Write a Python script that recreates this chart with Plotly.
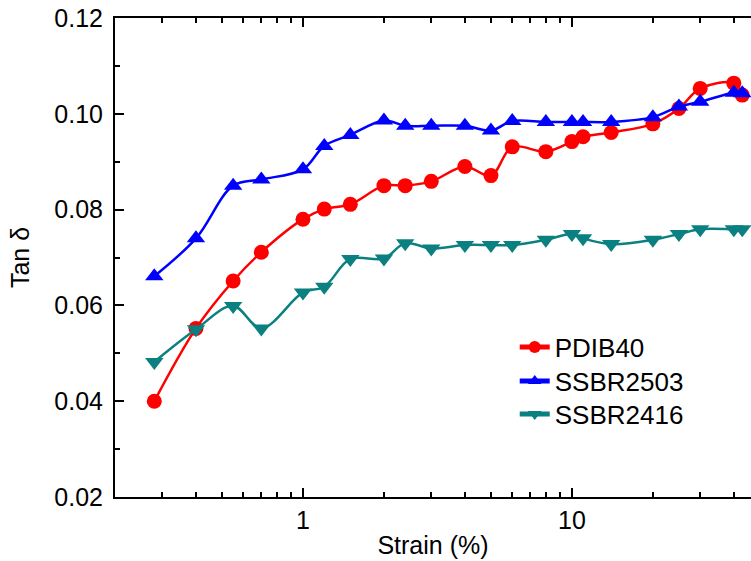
import plotly.graph_objects as go

strain = [0.28, 0.4, 0.55, 0.7, 1.0, 1.2, 1.5, 2.0, 2.4, 3.0, 4.0, 5.0, 6.0, 8.0,
          10.0, 11.0, 14.0, 20.0, 25.0, 30.0, 40.0, 43.0]

pdib40 = [0.0400, 0.0552, 0.0651, 0.0711, 0.0780, 0.0801, 0.0811, 0.0850, 0.0850,
          0.0859, 0.0890, 0.0871, 0.0931, 0.0921, 0.0942, 0.0952, 0.0961, 0.0979,
          0.1011, 0.1053, 0.1064, 0.1039]

ssbr2503 = [0.0661, 0.0740, 0.0850, 0.0863, 0.0884, 0.0933, 0.0956, 0.0986, 0.0975,
            0.0975, 0.0975, 0.0965, 0.0985, 0.0983, 0.0983, 0.0983, 0.0983, 0.0993,
            0.1015, 0.1025, 0.1044, 0.1043]

ssbr2416 = [0.0482, 0.0550, 0.0599, 0.0552, 0.0627, 0.0639, 0.0697, 0.0698, 0.0730,
            0.0719, 0.0726, 0.0726, 0.0726, 0.0737, 0.0749, 0.0740, 0.0728, 0.0737,
            0.0749, 0.0759, 0.0759, 0.0759]

series_names = ["PDIB40", "SSBR2503", "SSBR2416"]
series_values = [pdib40, ssbr2503, ssbr2416]
colors = ["#FF0000", "#0000FF", "#0A8080"]
symbols = ["circle", "triangle-up", "triangle-down"]
sizes = [15, 16, 16]
legend_ids = ["legend", "legend2", "legend3"]
legend_y = [0.362, 0.291, 0.222]

x_major = [1, 10]
x_major_text = ["1", "10"]
x_minor = [0.3, 0.4, 0.5, 0.6, 0.7, 0.8, 0.9, 2, 3, 4, 5, 6, 7, 8, 9, 20, 30, 40]

FONT = "Liberation Sans, Arial, sans-serif"

fig = go.Figure()
for name, vals, c, s, sz, lg in zip(series_names, series_values, colors, symbols,
                                    sizes, legend_ids):
    fig.add_trace(go.Scatter(
        x=strain, y=vals, name=name, mode="lines+markers", legend=lg,
        line=dict(color=c, width=2.5, shape="spline", smoothing=1.0),
        marker=dict(color=c, symbol=s, size=sz, line=dict(width=0)),
        cliponaxis=True,
    ))

legend_common = dict(x=0.6285, xanchor="left", yanchor="top",
                     bgcolor="rgba(0,0,0,0)", font=dict(size=26, family=FONT),
                     itemsizing="constant")

fig.update_layout(
    width=751, height=561,
    margin=dict(l=115, r=0, t=18, b=64, autoexpand=False),
    paper_bgcolor="white", plot_bgcolor="white",
    font=dict(family=FONT, color="black", size=25),
    showlegend=True,
    legend=dict(y=legend_y[0], **legend_common),
    legend2=dict(y=legend_y[1], **legend_common),
    legend3=dict(y=legend_y[2], **legend_common),
    xaxis=dict(
        type="log", range=[-0.699, 1.666], automargin=False,
        showline=True, linecolor="black", linewidth=2, mirror="allticks",
        showgrid=False, zeroline=False,
        tickmode="array", tickvals=x_major, ticktext=x_major_text,
        ticks="inside", ticklen=9, tickwidth=2, tickcolor="black",
        ticklabelstandoff=0, ticklabeloverflow="allow",
        minor=dict(tickmode="array", tickvals=x_minor, ticks="inside",
                   ticklen=5, tickwidth=2, tickcolor="black", showgrid=False),
        tickfont=dict(size=25),
        title=dict(text="Strain (%)", font=dict(size=25), standoff=3),
    ),
    yaxis=dict(
        range=[0.02, 0.12], automargin=False,
        showline=True, linecolor="black", linewidth=2, mirror=False,
        showgrid=False, zeroline=False,
        tickmode="linear", tick0=0.02, dtick=0.02, tickformat=".2f",
        ticks="inside", ticklen=9, tickwidth=2, tickcolor="black",
        ticklabelstandoff=5, ticklabeloverflow="allow",
        minor=dict(dtick=0.01, tick0=0.01, ticks="inside", ticklen=5,
                   tickwidth=2, tickcolor="black", showgrid=False),
        tickfont=dict(size=25),
        title=dict(text="Tan δ", font=dict(size=25), standoff=18),
    ),
)

fig.write_html(
    "out.html",
    config={"displayModeBar": False},
    post_script="document.body.style.margin='0';document.body.style.overflow='hidden';",
)
